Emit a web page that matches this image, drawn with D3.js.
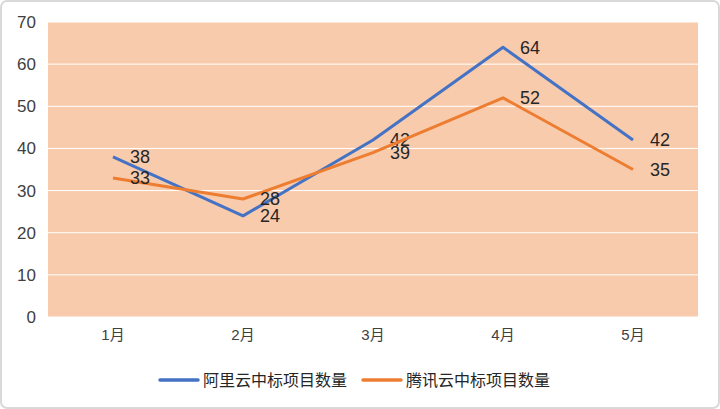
<!DOCTYPE html>
<html><head><meta charset="utf-8">
<script src="https://cdn.jsdelivr.net/npm/d3@7"></script>
<style>body{margin:0;background:#fff}text{font-family:"Liberation Sans","Noto Sans CJK SC",sans-serif}</style>
</head><body><svg id="c" width="720" height="409"></svg>
<script>
const categories=["1月","2月","3月","4月","5月"];
const aliyun=[38,24,42,64,42];
const tencent=[33,28,39,52,35];
const seriesNames=["阿里云中标项目数量","腾讯云中标项目数量"];
const yTicks=[0,10,20,30,40,50,60,70];
const colors=["#4472C4","#ED7D31"];

const svg=d3.select("#c");
svg.append("rect").attr("x",1).attr("y",1).attr("width",718).attr("height",407).attr("rx",6)
 .attr("fill","#fff").attr("stroke","#d9d9d9").attr("stroke-width",2);
const x=d3.scaleBand().domain(categories).range([48,698]);
const y=d3.scaleLinear().domain([0,70]).range([317,22]);
svg.append("rect").attr("x",48).attr("y",22).attr("width",650).attr("height",295).attr("fill","#F8CBAD");
svg.append("g").selectAll("line").data(yTicks).join("line")
 .attr("x1",48).attr("x2",698).attr("y1",d=>y(d)).attr("y2",d=>y(d)).attr("stroke","#fff").attr("stroke-width",1);
const ya=svg.append("g").attr("transform","translate(48,0)").call(d3.axisLeft(y).tickValues(yTicks).tickSize(0).tickPadding(12));
ya.select(".domain").remove();
ya.selectAll("text").attr("font-size",17).attr("fill","#404040");
const xa=svg.append("g").attr("transform","translate(0,317)").call(d3.axisBottom(x).tickSize(0).tickPadding(12));
xa.select(".domain").remove();
xa.selectAll("text").attr("font-size",15).attr("fill","#404040");
const cx=d=>x(d)+x.bandwidth()/2;
[aliyun,tencent].forEach((s,i)=>{
 const line=d3.line().x((d,j)=>cx(categories[j])).y(d=>y(d));
 svg.append("path").datum(s).attr("d",line).attr("fill","none").attr("stroke",colors[i]).attr("stroke-width",3).attr("stroke-linejoin","round");
 svg.append("g").selectAll("text").data(s).join("text")
  .attr("x",(d,j)=>cx(categories[j])+17).attr("y",d=>y(d)).attr("dy","0.35em")
  .attr("font-size",18).attr("fill","#262626").text(d=>d);
});
const lg=svg.append("g");
seriesNames.forEach((n,i)=>{
 const g=lg.append("g").attr("transform",`translate(${i?363:160},380)`);
 g.append("line").attr("x1",0).attr("x2",38).attr("stroke",colors[i]).attr("stroke-width",3.5).attr("stroke-linecap","round");
 g.append("text").attr("x",43).attr("dy","0.35em").attr("font-size",16).attr("font-family","Noto Sans CJK SC").attr("fill","#262626").text(n);
});
</script></body></html>
